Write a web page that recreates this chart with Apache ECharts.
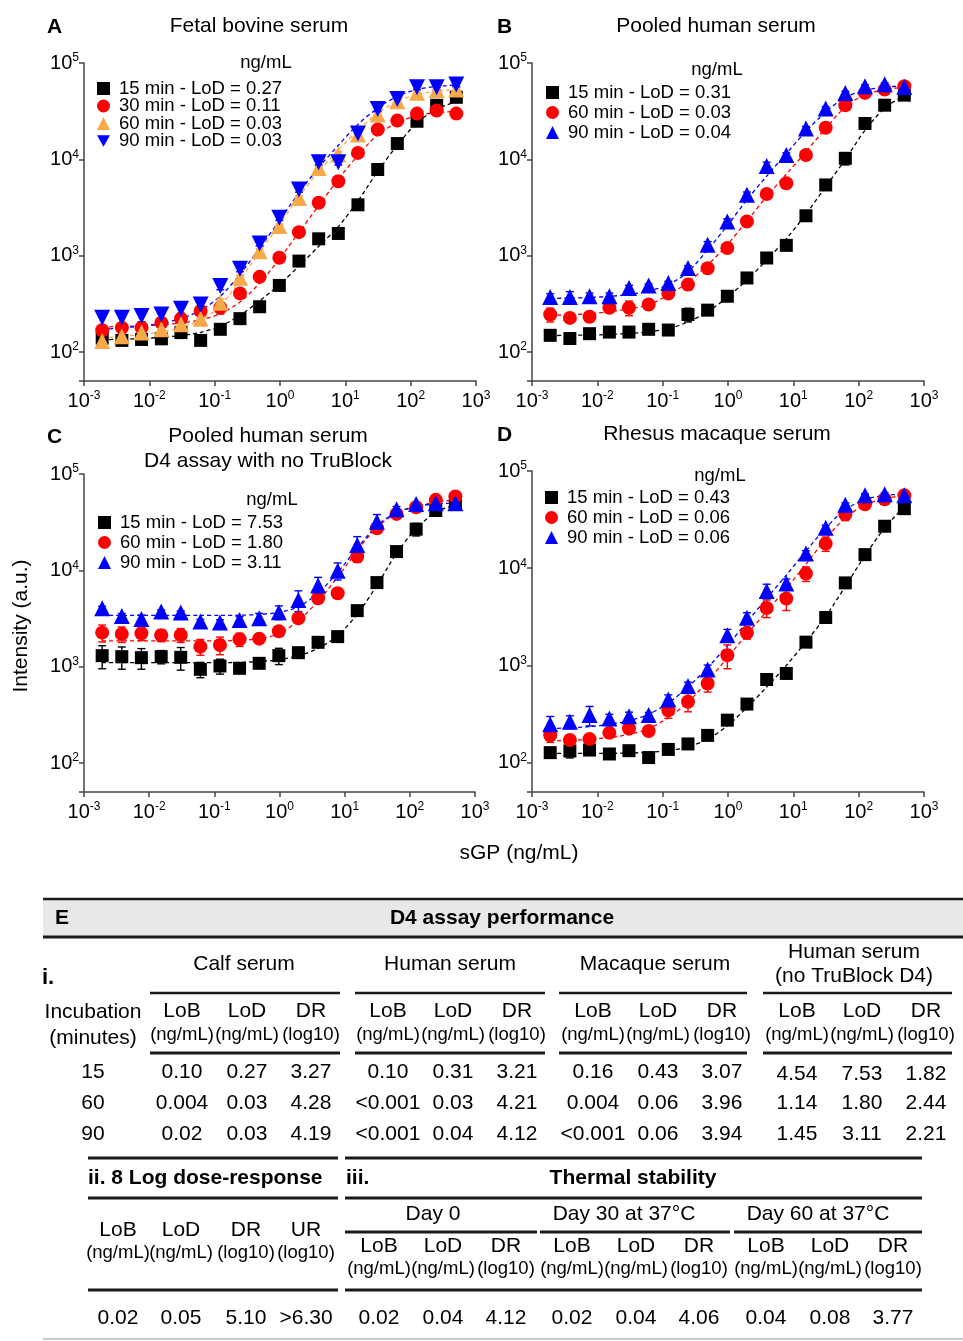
<!DOCTYPE html>
<html>
<head>
<meta charset="utf-8">
<script src="https://cdn.jsdelivr.net/npm/echarts@6/dist/echarts.min.js"></script>
<style>
html, body { margin: 0; padding: 0; background: #fff; }
#main { width: 963px; height: 1341px; }
</style>
</head>
<body>
<div id="main"></div>
<script>
// sGP concentration (ng/mL), 2-fold dilution series
const sgp = [0.0019, 0.0038, 0.0076, 0.0153, 0.0305, 0.061, 0.122, 0.244, 0.488, 0.977, 1.95, 3.91, 7.81, 15.6, 31.3, 62.5, 125, 250, 500];

// A - fetal bovine serum (intensity, a.u.)
const fbs15 = [139, 132, 135, 137, 159, 132, 172, 222, 295, 491, 879, 1496, 1700, 3373, 7840, 14580, 24850, 36380, 44040];
const fbs30 = [168, 179, 179, 201, 222, 266, 288, 406, 603, 950, 1754, 3540, 5930, 11660, 20370, 25230, 29850, 32080, 29850];
const fbs60 = [130, 146, 159, 172, 194, 222, 325, 590, 1114, 2027, 3980, 8130, 11220, 18070, 29150, 40090, 48980, 52140, 52960];
const fbs90 = [227, 227, 236, 245, 282, 312, 483, 731, 1340, 2473, 4860, 9330, 9330, 18540, 33340, 42370, 55980, 55980, 59700];
const fbs15Err = [10, 8, 8, 8, 10, 10, 10, 12, 15, 25, 40, 80, 80, 150, 500, 1000, 2000, 3000, 2500];
const fbs30Err = [20, 20, 20, 20, 20, 25, 40, 30, 40, 60, 100, 200, 300, 800, 1500, 2000, 2500, 3000, 2000];
const fbs60Err = [10, 10, 10, 12, 15, 20, 30, 40, 60, 100, 200, 400, 800, 1000, 1500, 2500, 3000, 3000, 3000];
const fbs90Err = [40, 30, 30, 30, 30, 30, 40, 50, 80, 150, 300, 600, 600, 1200, 2000, 3000, 3000, 3000, 3000];
const fbs15Fit = [134, 136, 138, 142, 148, 160, 185, 240, 340, 500, 780, 1250, 2000, 3700, 7500, 14000, 24000, 33000, 40000];
const fbs30Fit = [182, 184, 187, 192, 200, 215, 250, 330, 520, 920, 1750, 3300, 6200, 11000, 18000, 24000, 28500, 30500, 31500];
const fbs60Fit = [140, 145, 152, 162, 180, 215, 300, 560, 1100, 2100, 4100, 7500, 12500, 20000, 30000, 40000, 47000, 51000, 53000];
const fbs90Fit = [172, 178, 186, 198, 222, 270, 380, 640, 1200, 2300, 4500, 8200, 14000, 23000, 34000, 45000, 53000, 57000, 59000];

// B - pooled human serum
const phs15 = [149, 138, 155, 161, 161, 172, 169, 245, 272, 379, 587, 946, 1280, 2594, 5420, 10240, 23550, 36480, 46350];
const phs60 = [245, 226, 232, 288, 288, 311, 404, 501, 740, 1200, 2265, 4374, 5650, 11090, 21280, 36480, 48940, 52970, 57380];
const phs90 = [373, 373, 379, 379, 463, 490, 521, 745, 1300, 2265, 4277, 8530, 11090, 20940, 33740, 48940, 57380, 60160, 56470];
const phs15Err = [10, 10, 10, 10, 10, 10, 10, 40, 20, 20, 60, 80, 150, 200, 400, 1500, 2000, 2500, 3000];
const phs60Err = [40, 20, 20, 30, 50, 20, 20, 60, 40, 80, 200, 300, 300, 800, 2000, 2000, 2000, 2000, 2000];
const phs90Err = [30, 50, 30, 30, 30, 20, 20, 40, 100, 150, 300, 800, 600, 1000, 1500, 2000, 2000, 2000, 2000];
const phs15Fit = [148, 149, 150, 152, 156, 162, 175, 205, 262, 370, 560, 900, 1500, 2700, 5200, 10000, 20000, 34000, 46000];
const phs60Fit = [240, 244, 250, 262, 280, 310, 390, 530, 800, 1300, 2300, 4100, 7000, 12000, 21000, 35000, 47000, 53000, 56000];
const phs90Fit = [360, 363, 368, 378, 395, 430, 500, 680, 1150, 2050, 3800, 6700, 11500, 19500, 31000, 44000, 52000, 56000, 58000];

// C - pooled human serum, D4 assay with no TruBlock
const ntb15 = [1301, 1270, 1240, 1270, 1250, 938, 1016, 961, 1083, 1301, 1397, 1790, 2050, 3816, 7460, 15660, 26740, 41780, 49780];
const ntb60 = [2254, 2183, 2217, 2117, 2135, 1614, 1680, 1923, 1953, 2328, 3176, 5130, 5780, 13900, 27350, 38530, 45200, 53920, 58380];
const ntb90 = [4036, 3363, 3128, 3733, 3640, 2938, 2867, 3054, 3176, 3673, 4930, 6950, 9930, 18370, 31940, 42950, 48750, 49780, 49780];
const ntb15Err = [350, 330, 300, 200, 330, 170, 180, 50, 80, 250, 80, 150, 150, 200, 400, 1000, 4000, 3000, 2000];
const ntb60Err = [450, 400, 350, 300, 350, 300, 350, 300, 150, 150, 250, 500, 600, 1800, 2500, 2000, 2000, 2000, 2000];
const ntb90Err = [200, 200, 300, 150, 150, 150, 200, 250, 400, 600, 1200, 1500, 2000, 4000, 6000, 3000, 2000, 2000, 2000];
const ntb15Fit = [1100, 1100, 1100, 1100, 1100, 1100, 1100, 1110, 1130, 1180, 1300, 1550, 2100, 3500, 7000, 15000, 27000, 40000, 48000];
const ntb60Fit = [1850, 1850, 1850, 1850, 1850, 1850, 1860, 1880, 1950, 2200, 3000, 4800, 8500, 16000, 28000, 39000, 46000, 51000, 54000];
const ntb90Fit = [3400, 3400, 3400, 3400, 3400, 3400, 3400, 3420, 3480, 3650, 4200, 5800, 9500, 17000, 29000, 40000, 46000, 49000, 50000];

// D - rhesus macaque serum
const rms15 = [127, 132, 135, 123, 133, 113, 137, 156, 191, 274, 401, 718, 828, 1738, 3113, 7070, 13800, 27040, 41000];
const rms60 = [192, 171, 175, 203, 225, 212, 347, 424, 653, 1276, 2167, 3907, 4873, 8810, 17910, 35890, 45480, 51170, 56190];
const rms90 = [249, 264, 309, 285, 301, 309, 448, 614, 910, 2050, 3090, 5850, 6950, 14160, 26160, 45080, 56190, 57540, 56190];
const rms15Err = [10, 20, 15, 10, 10, 10, 10, 10, 10, 15, 20, 40, 40, 80, 150, 300, 600, 1500, 2000];
const rms60Err = [30, 20, 15, 15, 15, 15, 60, 90, 120, 350, 300, 800, 1200, 1500, 3000, 5000, 3000, 2000, 2000];
const rms90Err = [50, 40, 70, 30, 30, 20, 50, 60, 100, 300, 400, 1000, 800, 1000, 1500, 2000, 2000, 2000, 2000];
const rms15Fit = [125, 125, 125, 125, 126, 128, 133, 145, 175, 240, 370, 600, 1000, 1750, 3200, 6500, 13500, 26000, 43000];
const rms60Fit = [168, 170, 174, 182, 195, 225, 290, 420, 690, 1200, 2100, 3600, 6200, 11000, 20000, 33000, 45000, 52000, 56000];
const rms90Fit = [225, 228, 235, 248, 270, 315, 410, 600, 950, 1600, 2800, 4900, 8500, 15000, 26000, 40000, 51000, 56000, 58000];

// legend labels
const legendA = ['15 min - LoD = 0.27', '30 min - LoD = 0.11', '60 min - LoD = 0.03', '90 min - LoD = 0.03'];
const legendB = ['15 min - LoD = 0.31', '60 min - LoD = 0.03', '90 min - LoD = 0.04'];
const legendC = ['15 min - LoD = 7.53', '60 min - LoD = 1.80', '90 min - LoD = 3.11'];
const legendD = ['15 min - LoD = 0.43', '60 min - LoD = 0.06', '90 min - LoD = 0.06'];

// E - table
const tabIGroups = ['Calf serum', 'Human serum', 'Macaque serum', 'Human serum\n(no TruBlock D4)'];
const tabIIncubation = ['15', '60', '90'];
const tabIRow15 = ['0.10', '0.27', '3.27', '0.10', '0.31', '3.21', '0.16', '0.43', '3.07', '4.54', '7.53', '1.82'];
const tabIRow60 = ['0.004', '0.03', '4.28', '<0.001', '0.03', '4.21', '0.004', '0.06', '3.96', '1.14', '1.80', '2.44'];
const tabIRow90 = ['0.02', '0.03', '4.19', '<0.001', '0.04', '4.12', '<0.001', '0.06', '3.94', '1.45', '3.11', '2.21'];
const tabIIValues = ['0.02', '0.05', '5.10', '>6.30'];
const tabIIIGroups = ['Day 0', 'Day 30 at 37°C', 'Day 60 at 37°C'];
const tabIIIValues = ['0.02', '0.04', '4.12', '0.02', '0.04', '4.06', '0.04', '0.08', '3.77'];

const FONT = "'Liberation Sans', Arial, sans-serif";
const BLACK = '#000000', RED = '#ff0000', ORANGE = '#f7a948', BLUE = '#0000ff';
const INV_TRI = 'path://M0,0L10,0L5,9Z';

const chart = echarts.init(document.getElementById('main'));

const grids = [
    { left: 84, top: 63, width: 392, height: 318 },
    { left: 532, top: 63, width: 392, height: 318 },
    { left: 84, top: 474, width: 391, height: 318 },
    { left: 532, top: 471, width: 392, height: 321 }
];

const panels = [
    { prefix: 'A', legend: legendA, legendPos: [92, 74, -1.5], groups: [
        { y: fbs15, err: fbs15Err, fit: fbs15Fit, color: BLACK, symbol: 'rect', size: 13 },
        { y: fbs30, err: fbs30Err, fit: fbs30Fit, color: RED, symbol: 'circle', size: 14 },
        { y: fbs60, err: fbs60Err, fit: fbs60Fit, color: ORANGE, symbol: 'triangle', size: 16 },
        { y: fbs90, err: fbs90Err, fit: fbs90Fit, color: BLUE, symbol: 'triangle', size: 16, rotate: 180 }
    ] },
    { prefix: 'B', legend: legendB, legendPos: [541, 78, 1], groups: [
        { y: phs15, err: phs15Err, fit: phs15Fit, color: BLACK, symbol: 'rect', size: 13 },
        { y: phs60, err: phs60Err, fit: phs60Fit, color: RED, symbol: 'circle', size: 14 },
        { y: phs90, err: phs90Err, fit: phs90Fit, color: BLUE, symbol: 'triangle', size: 16 }
    ] },
    { prefix: 'C', legend: legendC, legendPos: [93, 508, 1], groups: [
        { y: ntb15, err: ntb15Err, fit: ntb15Fit, color: BLACK, symbol: 'rect', size: 13 },
        { y: ntb60, err: ntb60Err, fit: ntb60Fit, color: RED, symbol: 'circle', size: 14 },
        { y: ntb90, err: ntb90Err, fit: ntb90Fit, color: BLUE, symbol: 'triangle', size: 16 }
    ] },
    { prefix: 'D', legend: legendD, legendPos: [540, 483, 1], groups: [
        { y: rms15, err: rms15Err, fit: rms15Fit, color: BLACK, symbol: 'rect', size: 13 },
        { y: rms60, err: rms60Err, fit: rms60Fit, color: RED, symbol: 'circle', size: 14 },
        { y: rms90, err: rms90Err, fit: rms90Fit, color: BLUE, symbol: 'triangle', size: 16 }
    ] }
];

const powLabel = {
    fontFamily: FONT, color: '#000',
    rich: {
        b: { fontSize: 20, fontFamily: FONT, color: '#000', lineHeight: 22 },
        s: { fontSize: 12, fontFamily: FONT, color: '#000', lineHeight: 11, verticalAlign: 'top' }
    },
    formatter: function (v) {
        const e = Math.log10(v);
        if (Math.abs(e - Math.round(e)) > 0.01) return '';
        return '{b|10}{s|' + Math.round(e) + '}';
    }
};

const xAxes = [], yAxes = [], series = [], legends = [];
panels.forEach(function (p, gi) {
    xAxes.push({
        type: 'log', logBase: 10, gridIndex: gi, min: 0.001, max: 1000,
        axisLine: { lineStyle: { color: '#444', width: 1.5 } },
        axisTick: { length: 5, lineStyle: { color: '#444', width: 1.5 } },
        axisLabel: Object.assign({ margin: 9 }, powLabel),
        splitLine: { show: false }
    });
    yAxes.push({
        type: 'log', logBase: 10, gridIndex: gi, min: 50, max: 100000,
        axisLine: { show: true, lineStyle: { color: '#444', width: 1.5 } },
        axisTick: { show: true, length: 5, lineStyle: { color: '#444', width: 1.5 } },
        axisLabel: Object.assign({ margin: 5 }, powLabel),
        splitLine: { show: false }
    });
    // fitted curves underneath
    p.groups.forEach(function (g, k) {
        series.push({
            type: 'line', name: p.prefix + 'fit' + k, xAxisIndex: gi, yAxisIndex: gi,
            data: sgp.map(function (x, i) { return [x, g.fit[i]]; }),
            smooth: 0.3, showSymbol: false, symbol: 'none', z: 1, silent: true,
            lineStyle: { color: g.color, width: 1.3, type: [4, 3] }
        });
    });
    p.groups.forEach(function (g, k) {
        const col = g.color;
        series.push({
            type: 'custom', name: p.prefix + 'err' + k, xAxisIndex: gi, yAxisIndex: gi, z: 2, silent: true,
            data: sgp.map(function (x, i) { return [x, g.y[i], g.err[i]]; }),
            encode: { x: 0, y: 1 },
            renderItem: function (params, api) {
                const x = api.value(0), y = api.value(1), e = api.value(2);
                const top = api.coord([x, y + e]);
                const bot = api.coord([x, Math.max(y - e, 1)]);
                const st = { stroke: col, lineWidth: 1.4 };
                return { type: 'group', children: [
                    { type: 'line', shape: { x1: top[0], y1: top[1], x2: bot[0], y2: bot[1] }, style: st },
                    { type: 'line', shape: { x1: top[0] - 4, y1: top[1], x2: top[0] + 4, y2: top[1] }, style: st },
                    { type: 'line', shape: { x1: bot[0] - 4, y1: bot[1], x2: bot[0] + 4, y2: bot[1] }, style: st }
                ] };
            }
        });
        series.push({
            type: 'scatter', name: p.prefix + '|' + p.legend[k], xAxisIndex: gi, yAxisIndex: gi, z: 2,
            data: sgp.map(function (x, i) { return [x, g.y[i]]; }),
            symbol: g.symbol, symbolSize: g.size, symbolRotate: g.rotate || 0,
            itemStyle: { color: col, opacity: 1 }
        });
    });
    legends.push({
        orient: 'vertical', left: p.legendPos[0], top: p.legendPos[1], itemGap: p.legendPos[2],
        itemWidth: 13, itemHeight: 13, selectedMode: false,
        textStyle: { fontFamily: FONT, fontSize: 18.5, color: '#000', lineHeight: 16, padding: [0, 0, 0, 4] },
        formatter: function (n) { return n.split('|')[1]; },
        data: p.groups.map(function (g, k) {
            return {
                name: p.prefix + '|' + p.legend[k],
                icon: g.rotate ? INV_TRI : g.symbol,
                itemStyle: { color: g.color }
            };
        })
    });
});

// ---------- text and table graphics ----------
const gfx = [];
function txt(x, y, s, size, opt) {
    opt = opt || {};
    gfx.push({
        type: 'text', x: x, y: y, rotation: opt.rot || 0, silent: true,
        style: {
            text: s, fill: '#000', fontFamily: FONT, fontSize: size,
            fontWeight: opt.bold ? 'bold' : 'normal',
            align: opt.align || 'center', verticalAlign: 'middle', lineHeight: opt.lh || size * 1.15
        }
    });
}
function hline(x1, x2, y, w, c) {
    gfx.push({ type: 'line', silent: true, shape: { x1: x1, y1: y, x2: x2, y2: y }, style: { stroke: c || '#1a1a1a', lineWidth: w } });
}

// panel letters and titles
txt(47, 27, 'A', 21, { bold: true, align: 'left' });
txt(259, 26, 'Fetal bovine serum', 21);
txt(497, 27, 'B', 21, { bold: true, align: 'left' });
txt(716, 26, 'Pooled human serum', 21);
txt(47, 437, 'C', 21, { bold: true, align: 'left' });
txt(268, 436, 'Pooled human serum', 21);
txt(268, 461, 'D4 assay with no TruBlock', 21);
txt(497, 435, 'D', 21, { bold: true, align: 'left' });
txt(717, 434, 'Rhesus macaque serum', 21);
// legend unit headers
txt(266, 63, 'ng/mL', 18.5);
txt(717, 70, 'ng/mL', 18.5);
txt(272, 500, 'ng/mL', 18.5);
txt(720, 476, 'ng/mL', 18.5);
// shared axis names
txt(21, 626, 'Intensity (a.u.)', 21, { rot: Math.PI / 2 });
txt(519, 853, 'sGP (ng/mL)', 21);

// table E header band
gfx.push({ type: 'rect', silent: true, shape: { x: 43, y: 900, width: 920, height: 36 }, style: { fill: '#e8e8e8' } });
hline(43, 963, 899, 2.5);
hline(43, 963, 937, 3);
txt(55, 918, 'E', 21, { bold: true, align: 'left' });
txt(502, 918, 'D4 assay performance', 21, { bold: true });

// table i
txt(42, 978, 'i.', 22, { bold: true, align: 'left' });
txt(93, 1012, 'Incubation', 21);
txt(93, 1038, '(minutes)', 21);
const groupCenters = [247, 453, 658, 862];
const groupSpans = [[150, 340], [355, 545], [559, 747], [763, 952]];
const colOffsets = [-65, 0, 64];
const headNames = ['LoB', 'LoD', 'DR'];
const headUnits = ['(ng/mL)', '(ng/mL)', '(log10)'];
tabIGroups.forEach(function (g, gi) {
    const c = groupCenters[gi];
    if (g.indexOf('\n') >= 0) {
        const parts = g.split('\n');
        txt(c - 8, 952, parts[0], 21);
        txt(c - 8, 976, parts[1], 21);
    } else {
        txt(c - 3, 964, g, 21);
    }
    hline(groupSpans[gi][0], groupSpans[gi][1], 993, 2.5);
    hline(groupSpans[gi][0], groupSpans[gi][1], 1053, 3);
    colOffsets.forEach(function (o, k) {
        txt(c + o, 1011, headNames[k], 21);
        txt(c + o, 1035, headUnits[k], 18.5);
    });
});
[tabIRow15, tabIRow60, tabIRow90].forEach(function (row, r) {
    const y = 1072 + r * 31;
    txt(93, y, tabIIncubation[r], 21);
    row.forEach(function (v, j) {
        const gi = Math.floor(j / 3), k = j % 3;
        txt(groupCenters[gi] + colOffsets[k], y + (gi === 3 && r === 0 ? 2 : 0), v, 21);
    });
});

// table ii
hline(88, 338, 1158, 3);
hline(88, 338, 1198, 3);
hline(88, 338, 1290, 3);
txt(88, 1178, 'ii. 8 Log dose-response', 21, { bold: true, align: 'left' });
const tabIICols = [118, 181, 246, 306];
const tabIIHeads = ['LoB', 'LoD', 'DR', 'UR'];
const tabIIUnits = ['(ng/mL)', '(ng/mL)', '(log10)', '(log10)'];
tabIICols.forEach(function (x, k) {
    txt(x, 1230, tabIIHeads[k], 21);
    txt(x, 1253, tabIIUnits[k], 18.5);
    txt(x, 1318, tabIIValues[k], 21);
});

// table iii
hline(345, 922, 1158, 3);
hline(345, 922, 1198, 3);
hline(345, 922, 1290, 3);
txt(346, 1178, 'iii.', 21, { bold: true, align: 'left' });
txt(633, 1178, 'Thermal stability', 21, { bold: true });
const dayCenters = [443, 636, 830];
const daySpans = [[345, 537], [540, 730], [734, 922]];
tabIIIGroups.forEach(function (g, gi) {
    const c = dayCenters[gi];
    txt(c - 10 + (gi === 0 ? 0 : -2), 1214, g, 21);
    hline(daySpans[gi][0], daySpans[gi][1], 1232, 3);
    colOffsets.forEach(function (o, k) {
        const x = c + o + (k === 1 ? 0 : (k === 0 ? 1 : -1));
        txt(x, 1246, headNames[k], 21);
        txt(x, 1269, headUnits[k], 18.5);
        txt(x, 1318, tabIIIValues[gi * 3 + k], 21);
    });
});
hline(43, 963, 1339, 1.5, '#b8b8b8');

chart.setOption({
    backgroundColor: '#fff',
    animation: false,
    grid: grids,
    xAxis: xAxes,
    yAxis: yAxes,
    legend: legends,
    series: series,
    graphic: gfx
});
</script>
</body>
</html>
